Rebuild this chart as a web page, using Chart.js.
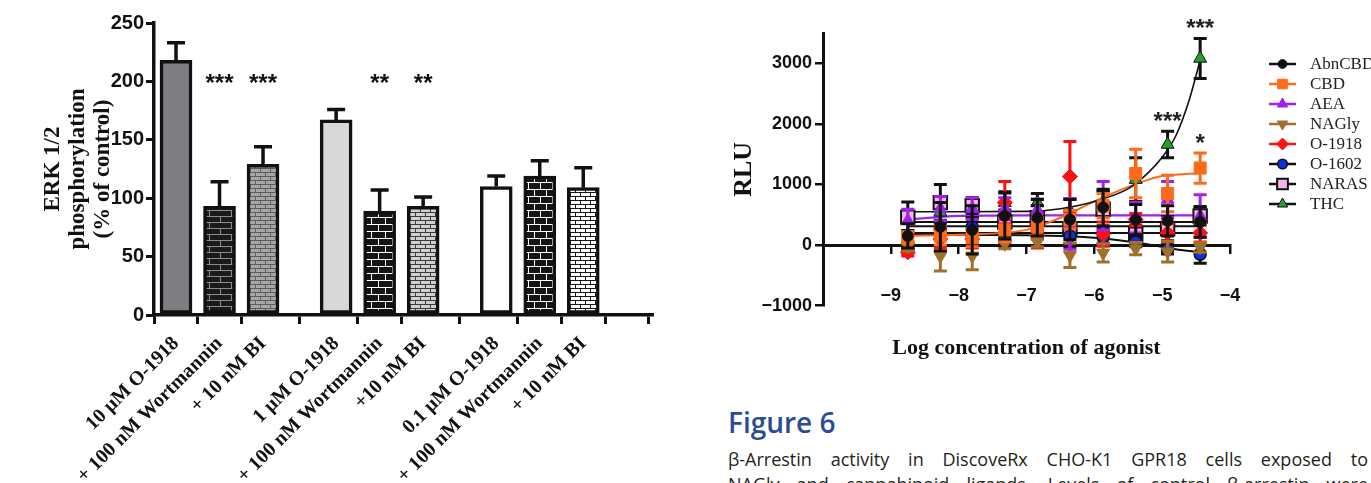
<!DOCTYPE html>
<html>
<head>
<meta charset="utf-8">
<script src="https://cdn.jsdelivr.net/npm/chart.js@4.4.1/dist/chart.umd.min.js"></script>
<style>
  html, body { margin: 0; padding: 0; background: #fff; width: 1371px; height: 483px; overflow: hidden; }
  #erk { position: absolute; left: 0; top: 0; }
  #arr { position: absolute; left: 700px; top: 0; }
  #caption { position: absolute; left: 728px; top: 405px; width: 640px; font-family: 'Open Sans', 'Noto Sans', sans-serif; color: #231f20; }
  #caption h2 { margin: 0; font-size: 28px; line-height: 34px; font-weight: 600; color: #2b4c94; }
  #caption .ln { font-size: 18px; line-height: 25px; text-align: justify; text-align-last: justify; }
  #caption .ln.first { margin-top: 8px; }
</style>
</head>
<body>
<canvas id="erk" width="700" height="483"></canvas>
<canvas id="arr" width="671" height="370"></canvas>
<div id="caption">
  <h2>Figure 6</h2>
  <div class="ln first">β-Arrestin activity in DiscoveRx CHO-K1 GPR18 cells exposed to</div>
  <div class="ln">NAGly and cannabinoid ligands. Levels of control β-arrestin were</div>
</div>
<script>
// ---- left panel: ERK 1/2 phosphorylation ----
const erkLabels = ['10 μM O-1918', '+ 100 nM Wortmannin', '+ 10 nM BI',
                   '1 μM O-1918', '+ 100 nM Wortmannin', '+10 nM BI',
                   '0.1 μM O-1918', '+ 100 nM Wortmannin', '+ 10 nM BI'];
const erkGroup = [0, 0, 0, 1, 1, 1, 2, 2, 2];
const erkSlot = [0, 1, 2, 0, 1, 2, 0, 1, 2];
const erkMean = [218, 93, 129, 167, 89, 93, 110, 119, 109];
const erkSem = [15, 21, 15, 9, 18, 8, 9, 13, 17];
const erkStars = ['', '***', '***', '', '**', '**', '', '', ''];
const erkTicks = [0, 50, 100, 150, 200, 250];

// ---- right panel: beta-arrestin, RLU vs log concentration ----
const logConc = [-8.75, -8.27, -7.8, -7.32, -6.84, -6.36, -5.87, -5.39, -4.92, -4.44];
const rluAbnCBD = [150, 300, 250, 480, 450, 420, 620, 420, 400, 380];
const semAbnCBD = [200, 400, 400, 380, 300, 330, 300, 250, 250, 250];
const rluCBD = [120, 150, 120, 250, 300, 420, 650, 1180, 850, 1270];
const semCBD = [100, 150, 150, 200, 150, 150, 200, 400, 300, 250];
const rluAEA = [400, 600, 600, 600, 580, 350, 650, 450, 750, 480];
const semAEA = [190, 200, 180, 180, 180, 420, 400, 250, 300, 350];
const rluNAGly = [-20, -180, -180, 20, 50, -170, -130, -60, -110, -40];
const semNAGly = [80, 250, 230, 80, 80, 200, 150, 100, 170, 80];
const rluO1918 = [-120, 100, 100, 700, 150, 1130, 180, 420, 200, 200];
const semO1918 = [60, 150, 150, 350, 200, 580, 200, 100, 150, 150];
const rluO1602 = [-70, 260, 300, 60, 220, 150, 130, 50, -70, -150];
const semO1602 = [60, 150, 150, 80, 120, 120, 100, 80, 80, 150];
const rluNARAS = [460, 700, 650, 380, 450, 270, 590, 180, 270, 480];
const semNARAS = [250, 300, 130, 200, 200, 300, 300, 150, 200, 150];
const rluTHC = [90, 540, 600, 700, 700, 560, 690, 1080, 1660, 3080];
const semTHC = [150, 180, 150, 180, 150, 200, 200, 360, 220, 330];
const rluTicks = [-1000, 0, 1000, 2000, 3000];
const logTicks = [-9, -8, -7, -6, -5, -4];

// fitted curves
const fitX = [-8.75, -8, -7, -6.5, -6, -5.5, -5.2, -5, -4.8, -4.6, -4.44];
const fitTHC = [550, 550, 555, 600, 720, 930, 1200, 1450, 1800, 2400, 3050];
const fitCBD = [150, 170, 250, 450, 720, 960, 1080, 1140, 1160, 1175, 1185];
const fitAEA = [420, 480, 490, 490, 490, 490, 490, 490, 490, 490, 490];
const fitO1602 = [170, 170, 160, 150, 120, 60, 10, -30, -70, -100, -120];
const fitEnds = [-8.75, -4.44];
const fitAbnCBD = [310, 310];
const fitNARAS = [380, 380];
const fitO1918 = [200, 200];

const starAgonist = ['THC', 'THC', 'CBD'];
const starIndex = [9, 8, 9];
const starText = ['***', '***', '*'];

const serif = "'Liberation Serif', 'Times New Roman', serif";
const sans = "'Liberation Sans', Arial, sans-serif";

// brick fills like the Prism patterns
function brick(bg, mortar, w, h, lw) {
    const c = document.createElement('canvas');
    c.width = w; c.height = h * 2;
    const g = c.getContext('2d');
    g.fillStyle = bg;
    g.fillRect(0, 0, w, h * 2);
    g.fillStyle = mortar;
    g.fillRect(0, 0, w, lw);
    g.fillRect(0, h, w, lw);
    g.fillRect(0, 0, lw, h);
    g.fillRect(w / 2, h, lw, h);
    return g.createPattern(c, 'repeat');
}

const barFills = [
    '#7c7e82',
    brick('#1a1a1a', '#8c8c8c', 22, 6, 1),
    brick('#a8a8a8', '#5c5c5c', 10, 4, 1),
    '#d7d8da',
    brick('#141414', '#ffffff', 14, 7, 1),
    brick('#d0d0d0', '#3a3a3a', 10, 4, 1),
    '#ffffff',
    brick('#141414', '#ffffff', 12, 7, 1),
    brick('#ffffff', '#141414', 10, 4, 1)
];

const groupGap = 0.68;
const erkPos = erkGroup.map((g, i) => g * (3 + groupGap) + erkSlot[i]);
const erkTickPos = erkPos.concat([2 * (3 + groupGap) + 3]);
const erkTickLabels = erkLabels.concat(['']);

const erkMarks = {
    id: 'erkMarks',
    afterDatasetsDraw(chart) {
        const { ctx, scales: { x, y } } = chart;
        ctx.save();
        ctx.strokeStyle = '#111';
        ctx.lineWidth = 3.5;
        ctx.fillStyle = '#111';
        ctx.font = 'bold 24px ' + sans;
        ctx.textAlign = 'center';
        ctx.textBaseline = 'alphabetic';
        erkMean.forEach((m, i) => {
            const px = x.getPixelForValue(erkPos[i]);
            const top = y.getPixelForValue(m);
            const end = y.getPixelForValue(m + erkSem[i]);
            ctx.beginPath();
            ctx.moveTo(px, top);
            ctx.lineTo(px, end);
            ctx.moveTo(px - 9, end);
            ctx.lineTo(px + 9, end);
            ctx.stroke();
            if (erkStars[i]) {
                ctx.fillText(erkStars[i], px, y.getPixelForValue(203) + 13);
            }
        });
        ctx.restore();
    }
};

new Chart(document.getElementById('erk'), {
    type: 'bar',
    data: {
        datasets: [{
            data: erkPos.map((p, i) => ({ x: p, y: erkMean[i] })),
            backgroundColor: barFills,
            borderColor: '#111',
            borderWidth: 3.5,
            borderSkipped: false,
            barThickness: 32
        }]
    },
    options: {
        responsive: false,
        animation: false,
        layout: { padding: { top: 23, right: 48, left: 0, bottom: 0 } },
        plugins: { legend: { display: false }, tooltip: { enabled: false } },
        scales: {
            x: {
                type: 'linear',
                min: -0.506,
                max: 10.94,
                offset: false,
                afterBuildTicks: s => { s.ticks = erkTickPos.map(v => ({ value: v })); },
                afterFit: s => { s.height = 168; },
                grid: { drawOnChartArea: false, tickLength: 9, color: '#111', lineWidth: 3 },
                border: { color: '#111', width: 3.5 },
                ticks: {
                    autoSkip: false,
                    minRotation: 45,
                    maxRotation: 45,
                    padding: 8,
                    color: '#111',
                    font: { family: serif, size: 20, weight: 'bold' },
                    callback: (v, i) => erkTickLabels[i]
                }
            },
            y: {
                min: 0,
                max: 250,
                afterBuildTicks: s => { s.ticks = erkTicks.map(v => ({ value: v })); },
                afterFit: s => { s.width = 154; },
                grid: { drawOnChartArea: false, tickLength: 8, color: '#111', lineWidth: 3 },
                border: { color: '#111', width: 3.5 },
                ticks: { padding: 2, color: '#111', font: { family: sans, size: 20, weight: 'bold' } },
                title: {
                    display: true,
                    text: ['ERK 1/2', 'phosphorylation', '(% of control)'],
                    color: '#111',
                    font: { family: serif, size: 23, weight: 'bold', lineHeight: 1.1 },
                    padding: { top: 40, bottom: 0 }
                }
            }
        }
    },
    plugins: [erkMarks]
});

// ---- right panel ----
function pts(vals) { return logConc.map((x, i) => ({ x, y: vals[i] })); }
function fit(xs, vals) { return xs.map((x, i) => ({ x, y: vals[i] })); }

const pointSets = [
    { label: 'AbnCBD', data: pts(rluAbnCBD), sem: semAbnCBD, errColor: '#111', lineColor: '#111',
      pointStyle: 'circle', pointRadius: 5.5, backgroundColor: '#111', borderColor: '#111', borderWidth: 1 },
    { label: 'CBD', data: pts(rluCBD), sem: semCBD, errColor: '#ff6a1a', lineColor: '#ff6a1a',
      pointStyle: 'rect', pointRadius: 8.5, backgroundColor: '#ff6a1a', borderColor: '#ff6a1a', borderWidth: 1 },
    { label: 'AEA', data: pts(rluAEA), sem: semAEA, errColor: '#a020f0', lineColor: '#a020f0',
      pointStyle: 'triangle', pointRadius: 7.5, backgroundColor: '#a020f0', borderColor: '#a020f0', borderWidth: 1 },
    { label: 'NAGly', data: pts(rluNAGly), sem: semNAGly, errColor: '#a0702a', lineColor: '#a0702a',
      pointStyle: 'triangle', rotation: 180, pointRadius: 7.5, backgroundColor: '#a0702a', borderColor: '#a0702a', borderWidth: 1 },
    { label: 'O-1918', data: pts(rluO1918), sem: semO1918, errColor: '#ff1010', lineColor: '#ff1010',
      pointStyle: 'rectRot', pointRadius: 7.5, backgroundColor: '#ff1010', borderColor: '#ff1010', borderWidth: 1 },
    { label: 'O-1602', data: pts(rluO1602), sem: semO1602, errColor: '#111', lineColor: '#111',
      pointStyle: 'circle', pointRadius: 6, backgroundColor: '#1030e0', borderColor: '#111', borderWidth: 1.5 },
    { label: 'NARAS', data: pts(rluNARAS), sem: semNARAS, errColor: '#111', lineColor: '#111',
      pointStyle: 'rect', pointRadius: 9.5, backgroundColor: '#f4b6e6', borderColor: '#111', borderWidth: 2 },
    { label: 'THC', data: pts(rluTHC), sem: semTHC, errColor: '#111', lineColor: '#111',
      pointStyle: 'triangle', pointRadius: 7.5, backgroundColor: '#22a02a', borderColor: '#111', borderWidth: 1 }
].map(d => Object.assign(d, { type: 'scatter', showLine: false, order: 1, legend: true, pointHoverRadius: d.pointRadius }));

const fitSets = [
    { data: fit(fitX, fitTHC), borderColor: '#111', borderWidth: 1.6 },
    { data: fit(fitX, fitCBD), borderColor: '#ff6a1a', borderWidth: 2 },
    { data: fit(fitX, fitAEA), borderColor: '#a020f0', borderWidth: 2.2 },
    { data: fit(fitX, fitO1602), borderColor: '#111', borderWidth: 2 },
    { data: fit(fitEnds, fitAbnCBD), borderColor: '#111', borderWidth: 2 },
    { data: fit(fitEnds, fitNARAS), borderColor: '#111', borderWidth: 2 },
    { data: fit(fitEnds, fitO1918), borderColor: '#111', borderWidth: 2 }
].map(d => Object.assign(d, { type: 'line', pointRadius: 0, fill: false, order: 2, cubicInterpolationMode: 'monotone' }));

const errorBars = {
    id: 'errorBars',
    beforeDatasetDraw(chart, args) {
        const ds = chart.data.datasets[args.index];
        if (!ds.sem) return;
        const { ctx, scales: { x, y } } = chart;
        ctx.save();
        ctx.strokeStyle = ds.errColor;
        ctx.lineWidth = 3;
        ds.data.forEach((p, i) => {
            const px = x.getPixelForValue(p.x);
            const hi = y.getPixelForValue(p.y + ds.sem[i]);
            const lo = y.getPixelForValue(p.y - ds.sem[i]);
            ctx.beginPath();
            ctx.moveTo(px, hi); ctx.lineTo(px, lo);
            ctx.moveTo(px - 6.5, hi); ctx.lineTo(px + 6.5, hi);
            ctx.moveTo(px - 6.5, lo); ctx.lineTo(px + 6.5, lo);
            ctx.stroke();
        });
        ctx.restore();
    },
    afterDatasetsDraw(chart) {
        const { ctx, scales: { x, y } } = chart;
        ctx.save();
        ctx.fillStyle = '#222';
        ctx.font = 'bold 24px ' + sans;
        ctx.textAlign = 'center';
        ctx.textBaseline = 'alphabetic';
        starText.forEach((t, k) => {
            const ds = chart.data.datasets.find(d => d.label === starAgonist[k]);
            const p = ds.data[starIndex[k]];
            const px = x.getPixelForValue(p.x);
            const py = y.getPixelForValue(p.y + ds.sem[starIndex[k]]);
            ctx.fillText(t, px, py - 2);
        });
        ctx.restore();
    }
};

const symbolLegend = {
    id: 'symbolLegend',
    afterDraw(chart) {
        const { ctx, chartArea } = chart;
        const sets = chart.data.datasets.filter(d => d.legend);
        ctx.save();
        ctx.font = '17px ' + serif;
        ctx.textBaseline = 'middle';
        ctx.textAlign = 'left';
        sets.forEach((d, i) => {
            const yy = chartArea.top + 31 + i * 20;
            const x0 = chartArea.right + 39;
            ctx.strokeStyle = d.lineColor;
            ctx.lineWidth = 2.5;
            ctx.beginPath();
            ctx.moveTo(x0, yy); ctx.lineTo(x0 + 27, yy);
            ctx.stroke();
            ctx.fillStyle = d.backgroundColor;
            ctx.strokeStyle = d.borderColor;
            ctx.lineWidth = d.borderWidth;
            Chart.helpers.drawPoint(ctx, {
                pointStyle: d.pointStyle, radius: d.pointRadius * 0.8,
                rotation: d.rotation || 0, borderWidth: d.borderWidth
            }, x0 + 13.5, yy);
            ctx.fillStyle = '#222';
            ctx.fillText(d.label, x0 + 41, yy + 1);
        });
        ctx.restore();
    }
};

new Chart(document.getElementById('arr'), {
    type: 'scatter',
    data: { datasets: pointSets.concat(fitSets) },
    options: {
        responsive: false,
        animation: false,
        layout: { padding: { top: 33, right: 141, left: 0, bottom: 0 } },
        plugins: {
            legend: { display: false },
            tooltip: { enabled: false },
            title: {
                display: true,
                text: 'Log concentration of agonist',
                position: 'bottom',
                fullSize: false,
                color: '#111',
                font: { family: serif, size: 22, weight: 'bold', lineHeight: 1.2 },
                padding: { top: 30, bottom: 8 }
            }
        },
        scales: {
            x: {
                type: 'linear',
                position: { y: 0 },
                min: -10,
                max: -4,
                afterBuildTicks: s => { s.ticks = logTicks.map(v => ({ value: v })); },
                afterFit: s => { s.height = 0; },
                grid: { drawOnChartArea: false, tickLength: 7, color: '#111', lineWidth: 2.5 },
                border: { color: '#111', width: 3 },
                ticks: {
                    padding: 33,
                    color: '#111',
                    font: { family: sans, size: 18, weight: 'bold' },
                    callback: v => '\u2212' + Math.abs(v)
                }
            },
            y: {
                min: -1000,
                max: 3500,
                afterBuildTicks: s => { s.ticks = rluTicks.map(v => ({ value: v })); },
                afterFit: s => { s.width = 123; },
                grid: { drawOnChartArea: false, tickLength: 8, color: '#111', lineWidth: 2.5 },
                border: { color: '#111', width: 3 },
                ticks: {
                    padding: 3,
                    color: '#111',
                    font: { family: sans, size: 18, weight: 'bold' },
                    callback: v => (v < 0 ? '\u2212' + Math.abs(v) : String(v))
                },
                title: {
                    display: true,
                    text: 'RLU',
                    color: '#111',
                    font: { family: serif, size: 26, weight: 'bold', lineHeight: 1.2 },
                    padding: { top: 29, bottom: 0 }
                }
            }
        }
    },
    plugins: [errorBars, symbolLegend]
});
</script>
</body>
</html>
